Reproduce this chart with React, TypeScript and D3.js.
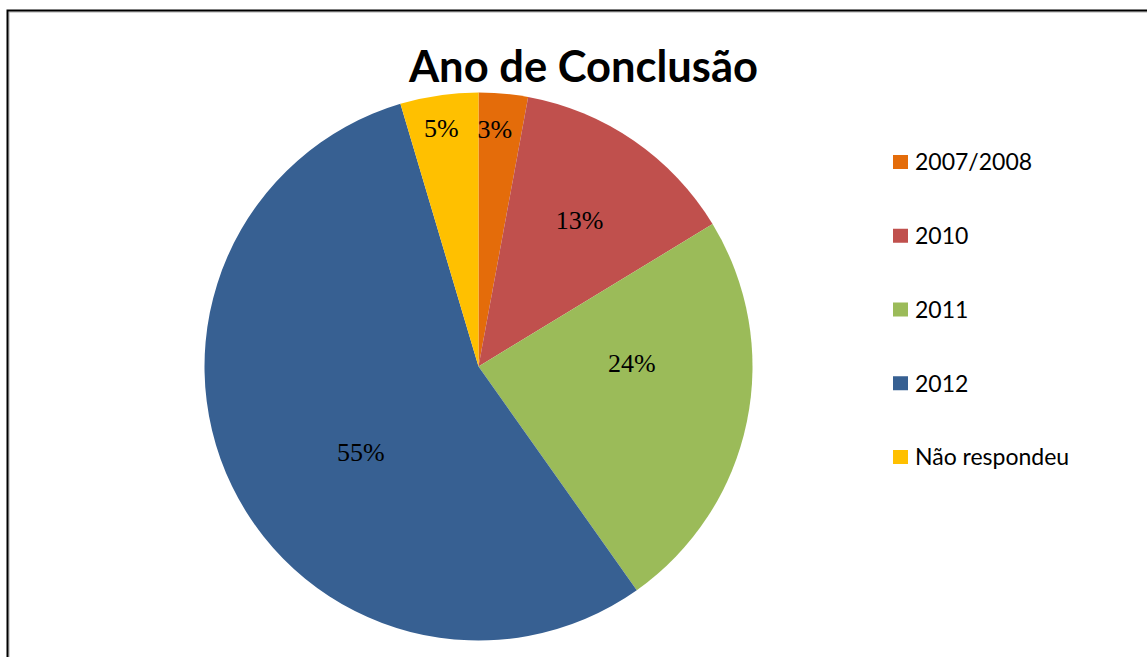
import React from "react";
import * as d3 from "d3";

const categories = ["2007/2008", "2010", "2011", "2012", "Não respondeu"];
const percents = [2.9, 13.4, 23.9, 55.2, 4.6];
const colors = ["#E46C0A", "#C0504D", "#9BBB59", "#376092", "#FFC000"];
const title = "Ano de Conclusão";

// label layout tweaks (radius as fraction of R, angle nudge in degrees)
const labelRadius = [0.87, 0.65, 0.56, 0.53, 0.88];
const labelNudge = [-1.3, 0, -13, -10, -0.6];

const W = 1147;
const H = 657;

export default function App() {
  const cx = 478.5;
  const cy = 366.5;
  const R = 274;
  const total = d3.sum(percents);
  const pie = d3.pie<number>().sort(null).value((d) => d)(percents);
  const arc = d3.arc<d3.PieArcDatum<number>>().innerRadius(0).outerRadius(R);
  const fmt = d3.format(".0%");

  const legendY = d3
    .scalePoint<string>()
    .domain(categories)
    .range([162, 457]);

  return (
    <svg
      width={W}
      height={H}
      style={{ position: "absolute", left: 0, top: 0, display: "block" }}
    >
      <rect x={0} y={0} width={W} height={H} fill="#fff" />
      <rect x={9} y={12} width={1300} height={800} fill="none" stroke="#aaa" strokeWidth={1} />
      <rect x={7.5} y={10.5} width={1300} height={800} fill="none" stroke="#000" strokeWidth={2} />
      <text
        x={583.5}
        y={82}
        textAnchor="middle"
        fontFamily="Lato, 'Open Sans', sans-serif"
        fontWeight="bold"
        fontSize={43.5}
        fill="#000"
      >
        {title}
      </text>
      <g transform={`translate(${cx},${cy})`}>
        {pie.map((p, i) => (
          <path key={i} d={arc(p) || ""} fill={colors[i]} />
        ))}
        {pie.map((p, i) => {
          const mid = (p.startAngle + p.endAngle) / 2 + (labelNudge[i] * Math.PI) / 180;
          const r = labelRadius[i] * R;
          const x = r * Math.sin(mid);
          const y = -r * Math.cos(mid);
          return (
            <text
              key={i}
              x={x}
              y={y}
              dy="0.35em"
              textAnchor="middle"
              fontFamily="'Liberation Serif', 'Times New Roman', serif"
              fontSize={26}
              fill="#000"
            >
              {fmt(p.data / total)}
            </text>
          );
        })}
      </g>
      {categories.map((c, i) => (
        <g key={c} transform={`translate(893,${legendY(c)})`}>
          <rect x={0} y={-7} width={15} height={14} fill={colors[i]} />
          <text
            x={22}
            y={0}
            dy="0.36em"
            fontFamily="Lato, 'Open Sans', sans-serif"
            fontSize={23}
            fill="#000"
          >
            {c}
          </text>
        </g>
      ))}
    </svg>
  );
}
